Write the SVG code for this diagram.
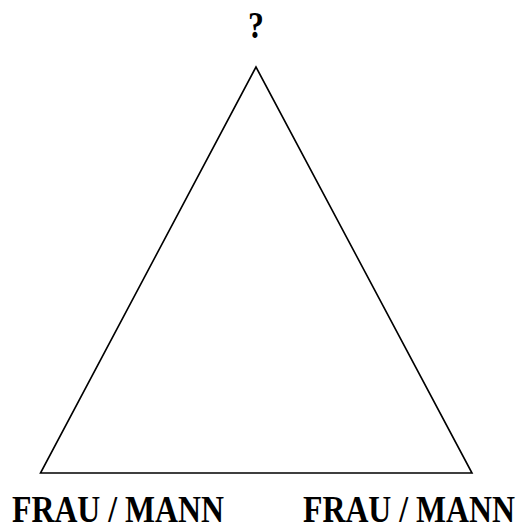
<svg xmlns="http://www.w3.org/2000/svg" width="518" height="525" viewBox="0 0 518 525">
<style>
.lbl{font-family:"Liberation Serif","Times New Roman",serif;font-weight:bold;font-size:37px;fill:#000;text-anchor:middle}
.edge{fill:none;stroke:#000;stroke-width:1.6;stroke-linejoin:miter}
</style>
<rect width="518" height="525" fill="#fff"/>
<g id="connectors">
<polygon class="edge" points="256,67 40.5,473 472,473"/>
</g>
<g id="top"><text class="lbl" transform="translate(256,38) scale(0.86,1)">?</text></g>
<g id="left"><text class="lbl" transform="translate(118,522) scale(0.86,1)">FRAU / MANN</text></g>
<g id="right"><text class="lbl" transform="translate(409,522) scale(0.86,1)">FRAU / MANN</text></g>
</svg>
